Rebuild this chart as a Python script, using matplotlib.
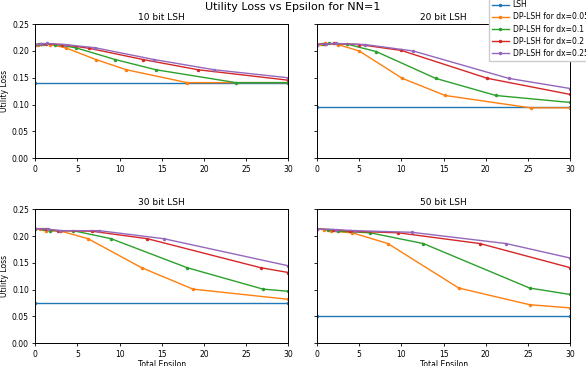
import matplotlib.pyplot as plt

# ---------------------------------------------------------
# data (x = total epsilon, y = utility loss)
# ---------------------------------------------------------
labels = ["LSH", "DP-LSH for dx=0.05", "DP-LSH for dx=0.1",
          "DP-LSH for dx=0.2", "DP-LSH for dx=0.25"]
colors = ["#1f77b4", "#ff7f0e", "#2ca02c", "#d62728", "#9467bd"]
titles = ["10 bit LSH", "20 bit LSH", "30 bit LSH", "50 bit LSH"]

lsh_x = [0, 30]

# 10 bit
lsh10 = 0.140
x10_05 = [0, 0.36, 0.72, 1.8, 3.6, 7.2, 10.8, 18.0, 30]
y10_05 = [0.212, 0.211, 0.213, 0.212, 0.206, 0.184, 0.165, 0.141, 0.141]
x10_1 = [0, 0.48, 0.95, 2.4, 4.8, 9.5, 14.3, 23.8, 30]
y10_1 = [0.211, 0.213, 0.213, 0.212, 0.206, 0.184, 0.165, 0.141, 0.141]
x10_2 = [0, 0.64, 1.3, 3.2, 6.4, 12.8, 19.3, 30]
y10_2 = [0.212, 0.213, 0.213, 0.212, 0.205, 0.184, 0.165, 0.1455]
x10_25 = [0, 0.7, 1.4, 3.5, 7.1, 14.1, 21.2, 30]
y10_25 = [0.212, 0.213, 0.214, 0.212, 0.206, 0.184, 0.165, 0.150]

# 20 bit
lsh20 = 0.095
x20_05 = [0, 0.5, 1.0, 2.5, 5.0, 10.1, 15.2, 25.3, 30]
y20_05 = [0.212, 0.213, 0.214, 0.212, 0.200, 0.149, 0.117, 0.094, 0.094]
x20_1 = [0, 0.7, 1.4, 3.5, 7.0, 14.05, 21.2, 30]
y20_1 = [0.212, 0.213, 0.214, 0.213, 0.199, 0.149, 0.117, 0.104]
x20_2 = [0, 1.0, 2.0, 5.0, 10.0, 20.2, 30]
y20_2 = [0.212, 0.213, 0.214, 0.212, 0.201, 0.149, 0.119]
x20_25 = [0, 1.1, 2.3, 5.7, 11.4, 22.7, 30]
y20_25 = [0.212, 0.213, 0.214, 0.212, 0.200, 0.149, 0.130]

# 30 bit
lsh30 = 0.076
x30_05 = [0, 0.63, 1.26, 3.1, 6.27, 12.6, 18.7, 30]
y30_05 = [0.214, 0.213, 0.210, 0.209, 0.195, 0.141, 0.101, 0.082]
x30_1 = [0, 0.9, 1.8, 4.5, 9.0, 18.0, 27.0, 30]
y30_1 = [0.214, 0.213, 0.210, 0.210, 0.195, 0.141, 0.101, 0.097]
x30_2 = [0, 1.3, 2.7, 6.7, 13.3, 26.7, 30]
y30_2 = [0.214, 0.213, 0.210, 0.209, 0.195, 0.141, 0.132]
x30_25 = [0, 1.5, 3.0, 7.6, 15.25, 30]
y30_25 = [0.214, 0.213, 0.210, 0.210, 0.195, 0.1445]

# 50 bit
lsh50 = 0.050
x50_05 = [0, 0.84, 1.68, 4.2, 8.4, 16.8, 25.2, 30]
y50_05 = [0.213, 0.212, 0.209, 0.206, 0.186, 0.103, 0.072, 0.066]
x50_1 = [0, 1.26, 2.5, 6.3, 12.6, 25.2, 30]
y50_1 = [0.213, 0.212, 0.209, 0.206, 0.186, 0.103, 0.091]
x50_2 = [0, 1.9, 3.86, 9.65, 19.3, 30]
y50_2 = [0.213, 0.212, 0.209, 0.206, 0.186, 0.141]
x50_25 = [0, 2.2, 4.5, 11.2, 22.4, 30]
y50_25 = [0.213, 0.212, 0.210, 0.207, 0.186, 0.159]

panels = [
    (lsh10, [(x10_05, y10_05), (x10_1, y10_1), (x10_2, y10_2), (x10_25, y10_25)]),
    (lsh20, [(x20_05, y20_05), (x20_1, y20_1), (x20_2, y20_2), (x20_25, y20_25)]),
    (lsh30, [(x30_05, y30_05), (x30_1, y30_1), (x30_2, y30_2), (x30_25, y30_25)]),
    (lsh50, [(x50_05, y50_05), (x50_1, y50_1), (x50_2, y50_2), (x50_25, y50_25)]),
]

# ---------------------------------------------------------
# plot
# ---------------------------------------------------------
fig, axes = plt.subplots(2, 2, figsize=(5.86, 3.66), dpi=100, sharey=True)
fig.subplots_adjust(left=0.06, right=0.973, top=0.934, bottom=0.062,
                    wspace=0.113, hspace=0.38)

for i, (ax, (lsh, series)) in enumerate(zip(axes.flat, panels)):
    ax.plot(lsh_x, [lsh] * len(lsh_x), color=colors[0], marker='.', ms=3, lw=1,
            label=labels[0])
    for j, (xs, ys) in enumerate(series):
        ax.plot(xs, ys, color=colors[j + 1], marker='.', ms=3, lw=1,
                label=labels[j + 1])
    ax.set_xlim(0, 30)
    ax.set_ylim(0, 0.25)
    ax.set_xticks([0, 5, 10, 15, 20, 25, 30])
    ax.set_yticks([0, 0.05, 0.10, 0.15, 0.20, 0.25])
    ax.tick_params(labelsize=5.5, length=2.5, width=0.6, pad=2)
    ax.yaxis.set_major_formatter(plt.FormatStrFormatter('%.2f'))
    ax.set_title(titles[i], fontsize=6.5, pad=3)
    for s in ax.spines.values():
        s.set_linewidth(0.7)
    if i % 2 == 0:
        ax.set_ylabel("Utility Loss", fontsize=5.5, labelpad=2)
    if i >= 2:
        ax.set_xlabel("Total Epsilon", fontsize=5.5, labelpad=1)

fig.suptitle("Utility Loss vs Epsilon for NN=1", fontsize=8, y=0.995)
handles, leg_labels = axes[0, 0].get_legend_handles_labels()
fig.legend(handles, leg_labels, loc='upper left', bbox_to_anchor=(0.828, 1.018),
           fontsize=5.5, handlelength=2.2, handletextpad=0.5, labelspacing=0.42,
           borderpad=0.4, framealpha=1.0, fancybox=False, edgecolor='#cccccc')

plt.savefig("out.png", dpi=100)
